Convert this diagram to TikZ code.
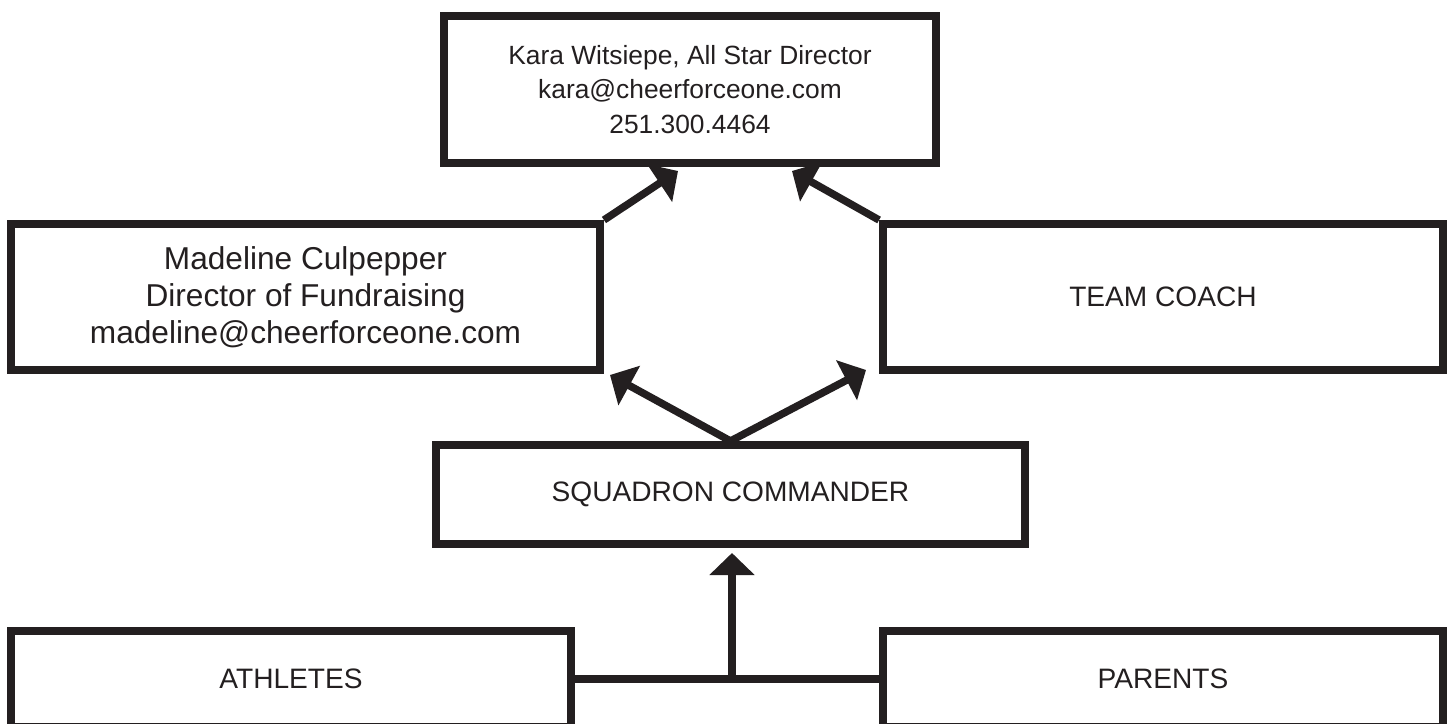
\documentclass[tikz,border=0pt]{standalone}
\usepackage{fontspec}
\setmainfont{Liberation Sans}
\usetikzlibrary{arrows.meta,positioning}
\definecolor{ink}{HTML}{231F20}

\begin{document}
\begin{tikzpicture}[x=0.02cm,y=-0.02cm,
		place/.style={rectangle,draw=ink,text=ink,line width=0.16cm,align=center,inner sep=0pt},
		marrow/.style={-{Triangle[length=0.44cm,width=0.88cm]},draw=ink,fill=ink,line width=0.15cm}]
		\fontsize{16}{20}\selectfont
		\useasboundingbox (0,0) rectangle (1448,724);
		\node [place,minimum width=9.84cm,minimum height=2.94cm,font=\fontsize{15}{19.5}\selectfont] (director) at (690,89.5) {
			Kara Witsiepe, All Star Director\\ kara@cheerforceone.com\\ 251.300.4464
		};
		\node [place,minimum width=11.78cm,minimum height=2.92cm,font=\fontsize{18}{21}\selectfont] (fundraising) at (305.5,297) {
			Madeline Culpepper\\ Director of Fundraising\\ madeline@cheerforceone.com
		};
		\node [place,minimum width=11.2cm,minimum height=2.92cm] (coach) at (1163,297) {TEAM COACH};
		\node [place,minimum width=11.78cm,minimum height=1.98cm] (commander) at (730.5,494.5) {SQUADRON COMMANDER};
		\node [place,minimum width=11.2cm,minimum height=1.92cm] (athletes) at (291,679) {ATHLETES};
		\node [place,minimum width=11.2cm,minimum height=1.92cm] (parents) at (1163,679) {PARENTS};

		% free ends of the arrows
		\coordinate (director-left) at (678,171);
		\coordinate (director-right) at (792,171);
		\coordinate (fundraising-in) at (610,375);
		\coordinate (coach-in) at (866,370);
		\coordinate (commander-in) at (732,553);
		\coordinate (join) at (athletes.east -| commander-in);

		% horizontal line
		\draw [draw=ink,line width=0.15cm] (athletes) -- (parents);

		% arrows
		\draw [marrow] (fundraising.north east) -- (director-left);
		\draw [marrow] (coach.north west) -- (director-right);
		\draw [marrow] (commander.north) -- (fundraising-in);
		\draw [marrow] (commander.north) -- (coach-in);
		\draw [marrow] (join) -- (commander-in);
	\end{tikzpicture}
\end{document}
